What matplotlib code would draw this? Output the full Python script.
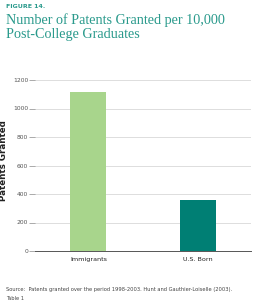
import matplotlib.pyplot as plt
import numpy as np

categories = ["Immigrants", "U.S. Born"]
patents = [1117, 358]
bar_colors = ["#a8d58c", "#007f74"]
y_ticks = [0, 200, 400, 600, 800, 1000, 1200]

teal = "#2a9a8c"

fig = plt.figure(figsize=(2.54, 3.0), dpi=100)
ax = fig.add_axes([35 / 254, 1 - 251 / 300, 216 / 254, 171 / 300])

x = np.arange(len(categories))
ax.bar(x, patents, width=0.33, color=bar_colors, zorder=3)

ax.set_xlim(-0.49, 1.49)
ax.set_ylim(0, 1200)
ax.set_yticks(y_ticks)
ax.set_yticklabels([str(v) for v in y_ticks], fontsize=4.3, color="#555555")
ax.set_xticks(x)
ax.set_xticklabels(categories, fontsize=4.6, color="#222222")
ax.tick_params(axis="y", length=4, width=0.5, color="#888888", pad=1)
ax.tick_params(axis="x", length=0, pad=4)
ax.grid(axis="y", color="#d8d8d8", linewidth=0.6, zorder=0)
for side in ["top", "right", "left"]:
    ax.spines[side].set_visible(False)
ax.spines["bottom"].set_color("#555555")
ax.spines["bottom"].set_linewidth(0.7)

ax.set_ylabel("Patents Granted", fontsize=6.3, fontweight="bold", color="#222222")
ax.yaxis.set_label_coords((8 - 35) / 216, 0.53)

fig.text(6 / 254, 1 - 7 / 300, "FIGURE 14.", fontsize=4.5, fontweight="bold",
         color=teal, va="center", ha="left")
fig.text(6 / 254, 1 - 27 / 300, "Number of Patents Granted per 10,000\nPost-College Graduates",
         fontsize=10.2, family="Liberation Serif", color=teal, va="center", ha="left",
         linespacing=1.05)
fig.text(6 / 254, 1 - 290 / 300,
         "Source:  Patents granted over the period 1998-2003. Hunt and Gauthier-Loiselle (2003).",
         fontsize=3.7, color="#444444", va="center", ha="left")
fig.text(6 / 254, 1 - 299 / 300, "Table 1", fontsize=3.7, color="#444444", va="center", ha="left")

fig.savefig("out.png", dpi=100)
